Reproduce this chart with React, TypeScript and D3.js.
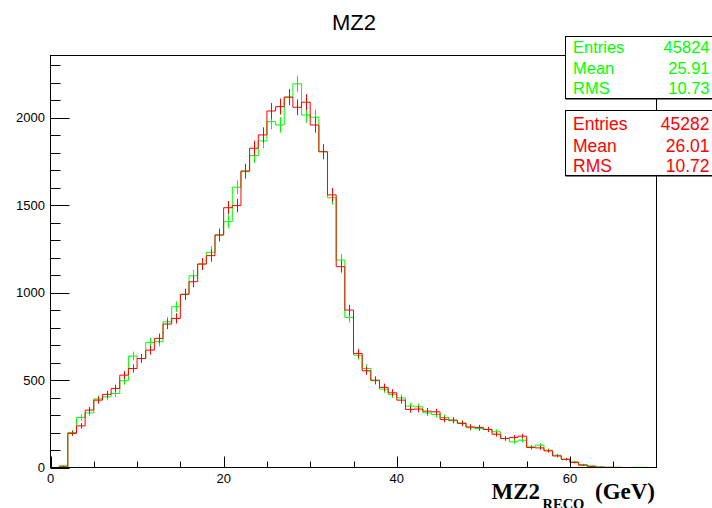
import React from "react";
import * as d3 from "d3";

const binEdges: number[] = d3.range(0, 71, 1);
const greenCounts: number[] = [
  0, 10, 200, 286, 312, 392, 404, 423, 496, 637,
  623, 715, 719, 833, 919, 990, 1096, 1163, 1230, 1329,
  1405, 1602, 1691, 1783, 1867, 1977, 1958, 2117, 2193, 2015,
  2002, 1805, 1542, 1186, 858, 642, 566, 496, 448, 418,
  398, 351, 347, 312, 303, 286, 267, 255, 227, 223,
  219, 204, 166, 147, 156, 118, 128, 99, 70, 47,
  32, 17, 9, 3, 1, 0, 0, 1, 1, 0,
];
const redCounts: number[] = [
  0, 4, 195, 238, 328, 385, 418, 452, 528, 566,
  623, 671, 738, 820, 852, 990, 1062, 1163, 1211, 1329,
  1485, 1497, 1695, 1825, 1901, 2038, 2063, 2117, 2059, 2088,
  1958, 1805, 1558, 1148, 900, 652, 553, 499, 458, 427,
  385, 332, 334, 322, 318, 275, 271, 252, 232, 229,
  217, 190, 166, 172, 179, 114, 112, 95, 66, 47,
  29, 13, 6, 2, 1, 1, 0, 0, 0, 0,
];
const xMajorTicks: number[] = [0, 20, 40, 60];
const yMajorTicks: number[] = [0, 500, 1000, 1500, 2000];
const statLabels: string[] = ["Entries", "Mean", "RMS"];
const greenStats: string[] = ["45824", "25.91", "10.73"];
const redStats: string[] = ["45282", "26.01", "10.72"];
const title = "MZ2";

const W = 712, H = 508;
const X0 = 50.5, X1 = 656.5, Y0 = 467.5, Y1 = 55.5;
const YMAX = 2355;

const sans = "'Liberation Sans', Arial, sans-serif";
const serif = "'Liberation Serif', 'Times New Roman', serif";

export default function App() {
  const x = d3.scaleLinear().domain([0, 70]).range([X0, X1]);
  const y = d3.scaleLinear().domain([0, YMAX]).range([Y0, Y1]);

  const stepPath = (counts: number[]) => {
    const p = d3.path();
    p.moveTo(x(binEdges[0]), y(0));
    counts.forEach((c, i) => {
      p.lineTo(x(binEdges[i]), y(c));
      p.lineTo(x(binEdges[i + 1]), y(c));
    });
    p.lineTo(x(binEdges[binEdges.length - 1]), y(0));
    return p.toString();
  };

  const errBars = (counts: number[], color: string) =>
    counts.map((c, i) => {
      if (c <= 0) return null;
      const cx = Math.round(x((binEdges[i] + binEdges[i + 1]) / 2)) + 0.5;
      const e = Math.sqrt(c);
      return (
        <line key={i} x1={cx} x2={cx} y1={y(c - e)} y2={y(c + e)} stroke={color} strokeWidth={1} />
      );
    });

  const xMinor = d3.range(0, 71, 5).filter((v) => v % 20 !== 0 && v < 70);
  const yMinor = d3.range(0, YMAX, 100).filter((v) => v % 500 !== 0);

  const statBox = (
    top: number, h: number, color: string, vals: string[], fs: number, baselines: number[]
  ) => (
    <g>
      <rect x={565.5} y={top + 1} width={160} height={h} fill="#000" />
      <rect x={565.5} y={top} width={160} height={h} fill="#fff" stroke="#000" strokeWidth={1} />
      {statLabels.map((l, i) => (
        <text key={l} x={573} y={baselines[i]} fill={color} fontFamily={sans} fontSize={fs}>{l}</text>
      ))}
      {vals.map((v, i) => (
        <text key={i} x={709.5} y={baselines[i]} fill={color} fontFamily={sans} fontSize={fs} textAnchor="end">{v}</text>
      ))}
    </g>
  );

  return (
    <svg width={W} height={H} style={{ position: "absolute", left: 0, top: 0, display: "block" }}>
      <rect x={0} y={0} width={W} height={H} fill="#fff" />
      <text x={354} y={30} textAnchor="middle" fontFamily={sans} fontSize={22} fill="#000">{title}</text>

      <path d={stepPath(greenCounts)} fill="none" stroke="#00ff00" strokeWidth={1} />
      {errBars(greenCounts, "#00ff00")}
      <path d={stepPath(redCounts)} fill="none" stroke="#ff0000" strokeWidth={1} />
      {errBars(redCounts, "#ff0000")}

      <rect x={X0} y={Y1} width={X1 - X0} height={Y0 - Y1} fill="none" stroke="#000" strokeWidth={1} />

      {xMajorTicks.map((t) => (
        <g key={t}>
          <line x1={Math.round(x(t)) + 0.5} x2={Math.round(x(t)) + 0.5} y1={Y0} y2={Y0 - 11} stroke="#000" />
          <text x={x(t)} y={483} textAnchor="middle" fontFamily={sans} fontSize={13} fill="#000">{t}</text>
        </g>
      ))}
      {xMinor.map((t) => (
        <line key={t} x1={Math.round(x(t)) + 0.5} x2={Math.round(x(t)) + 0.5} y1={Y0} y2={Y0 - 6} stroke="#000" />
      ))}
      {yMajorTicks.map((t) => (
        <g key={t}>
          <line x1={X0} x2={X0 + 19} y1={Math.round(y(t)) + 0.5} y2={Math.round(y(t)) + 0.5} stroke="#000" />
          <text x={45} y={y(t) + 4.5} textAnchor="end" fontFamily={sans} fontSize={13} fill="#000">{t}</text>
        </g>
      ))}
      {yMinor.map((t) => (
        <line key={t} x1={X0} x2={X0 + 10} y1={Math.round(y(t)) + 0.5} y2={Math.round(y(t)) + 0.5} stroke="#000" />
      ))}

      <text fontFamily={serif} fontWeight="bold" fill="#000">
        <tspan x={491.5} y={499} fontSize={23}>MZ2</tspan>
        <tspan x={542.5} y={509} fontSize={14.5}>RECO</tspan>
        <tspan x={595} y={499} fontSize={23}>(GeV)</tspan>
      </text>

      {statBox(36.5, 62, "#00ff00", greenStats, 16.5, [52.5, 74, 94])}
      {statBox(110.5, 65, "#ff0000", redStats, 17.5, [129.5, 151.5, 171.5])}
    </svg>
  );
}
